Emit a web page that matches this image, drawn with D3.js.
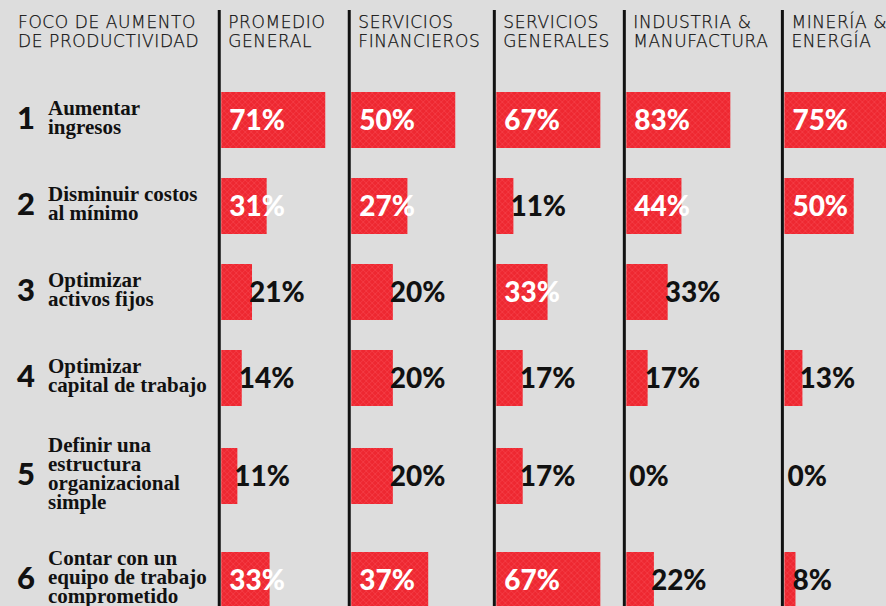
<!DOCTYPE html>
<html>
<head>
<meta charset="utf-8">
<script src="https://cdn.jsdelivr.net/npm/d3@7"></script>
<style>
  body { margin: 0; background: #dddddd; }
  svg { display: block; }
</style>
</head>
<body>
<div id="chartContainer"></div>
<script>
// header of each column (two lines each)
var leftHeader = ["FOCO DE AUMENTO", "DE PRODUCTIVIDAD"];
var sectors = [
  ["PROMEDIO", "GENERAL"],
  ["SERVICIOS", "FINANCIEROS"],
  ["SERVICIOS", "GENERALES"],
  ["INDUSTRIA &", "MANUFACTURA"],
  ["MINERÍA &", "ENERGÍA"]
];

// productivity focus, one entry per row
var focus = [
  ["Aumentar", "ingresos"],
  ["Disminuir costos", "al mínimo"],
  ["Optimizar", "activos fijos"],
  ["Optimizar", "capital de trabajo"],
  ["Definir una", "estructura", "organizacional", "simple"],
  ["Contar con un", "equipo de trabajo", "comprometido"]
];

// percent per sector, rows in the same order as focus (null = not shown)
var promedio    = [71, 31, 21, 14, 11, 33];
var financieros = [50, 27, 20, 20, 20, 37];
var generales   = [67, 11, 33, 17, 17, 67];
var industria   = [83, 44, 33, 17, 0, 22];
var mineria     = [75, 50, null, 13, 0, 8];
var values = [promedio, financieros, generales, industria, mineria];

var width = 886, height = 606;
var red = "#ee2831";
var headFont = "'DejaVu Sans', sans-serif";
var numFont = "Lato, 'Open Sans', sans-serif";
var serif = "'Liberation Serif', 'DejaVu Serif', serif";

var svg = d3.select("#chartContainer").append("svg")
    .attr("width", width)
    .attr("height", height);

// hatch pattern for the bars
var defs = svg.append("defs");
var pat = defs.append("pattern")
    .attr("id", "hatch")
    .attr("patternUnits", "userSpaceOnUse")
    .attr("width", 6).attr("height", 6);
pat.append("rect").attr("width", 6).attr("height", 6).attr("fill", red);
pat.append("path").attr("d", "M0,0L6,6M6,0L0,6")
    .attr("stroke", "#ff6a70").attr("stroke-width", 0.6).attr("opacity", 0.45);

svg.append("rect").attr("width", width).attr("height", height).attr("fill", "#dddddd");

// header text, measured to lay out the columns
function header(g, lines, x) {
  var t = g.append("text")
      .attr("x", x)
      .attr("y", 28)
      .style("font-family", headFont)
      .style("font-weight", 200)
      .style("font-size", "17px")
      .style("letter-spacing", "0.6px")
      .style("fill", "#111")
      .style("stroke", "#111")
      .style("stroke-width", 0.25);
  t.selectAll("tspan").data(lines).enter().append("tspan")
      .attr("x", x)
      .attr("dy", function (d, i) { return i ? 19 : 0; })
      .text(function (d) { return d; });
  return t.node().getBBox().width;
}

var head = svg.append("g");
var leftW = header(head, leftHeader, 18);

// column dividers from header widths
var barMax = 104;
var dividers = [];
var x0 = 18 + leftW + 20;
sectors.forEach(function (s, i) {
  dividers.push(x0);
  var w = header(head, s, x0 + 9);
  x0 = x0 + 9 + Math.max(w + 14, barMax + 17);
});

// row layout: taller rows for longer labels
var rowH = focus.map(function (f) { return 62 + 12 * f.length; });
var centers = [];
var acc = 77;
rowH.forEach(function (h) { centers.push(acc + h / 2); acc += h; });
var y = d3.scaleOrdinal().domain(d3.range(focus.length)).range(centers);
var barH = 56;
var lh = 19;
var minInside = 45;

// left labels
var rows = svg.append("g").selectAll("g.row")
    .data(focus).enter().append("g")
    .attr("class", "row");

rows.append("text")
    .attr("x", 17)
    .attr("y", function (d, i) { return y(i) + 9; })
    .style("font-family", numFont)
    .style("font-weight", 900)
    .style("font-size", "31px")
    .style("fill", "#111")
    .text(function (d, i) { return i + 1; });

rows.append("text")
    .attr("y", function (d, i) { return y(i) - (d.length - 1) / 2 * lh + 4; })
    .style("font-family", serif)
    .style("font-weight", 700)
    .style("font-size", "21px")
    .style("fill", "#111")
    .selectAll("tspan").data(function (d) { return d; }).enter().append("tspan")
    .attr("x", 48)
    .attr("dy", function (d, i) { return i ? lh : 0; })
    .text(function (d) { return d; });

// bars per sector
values.forEach(function (vals, c) {
  var left = dividers[c] + 2;
  var x = d3.scaleLinear().domain([0, d3.max(vals)]).range([0, barMax]);
  var g = svg.append("g").attr("transform", "translate(" + left + ",0)");
  var data = vals.map(function (v, i) { return { v: v, i: i }; })
      .filter(function (d) { return d.v !== null; });

  g.selectAll("rect").data(data).enter().append("rect")
      .attr("x", 0)
      .attr("y", function (d) { return y(d.i) - barH / 2; })
      .attr("width", function (d) { return x(d.v); })
      .attr("height", barH)
      .attr("fill", "url(#hatch)");

  g.selectAll("text").data(data).enter().append("text")
      .attr("y", function (d) { return y(d.i); })
      .attr("dy", "0.36em")
      .attr("x", function (d) { return x(d.v) >= minInside ? 8 : Math.max(x(d.v) - 3, 3); })
      .style("fill", function (d) { return x(d.v) >= minInside ? "#fff" : "#111"; })
      .style("font-family", numFont)
      .style("font-weight", 900)
      .style("font-size", "28px")
      .text(function (d) { return d.v + "%"; });
});

// vertical dividers
svg.append("g").selectAll("line").data(dividers).enter().append("line")
    .attr("x1", function (d) { return d; })
    .attr("x2", function (d) { return d; })
    .attr("y1", 10)
    .attr("y2", height)
    .attr("stroke", "#111")
    .attr("stroke-width", 3);
</script>
</body>
</html>
